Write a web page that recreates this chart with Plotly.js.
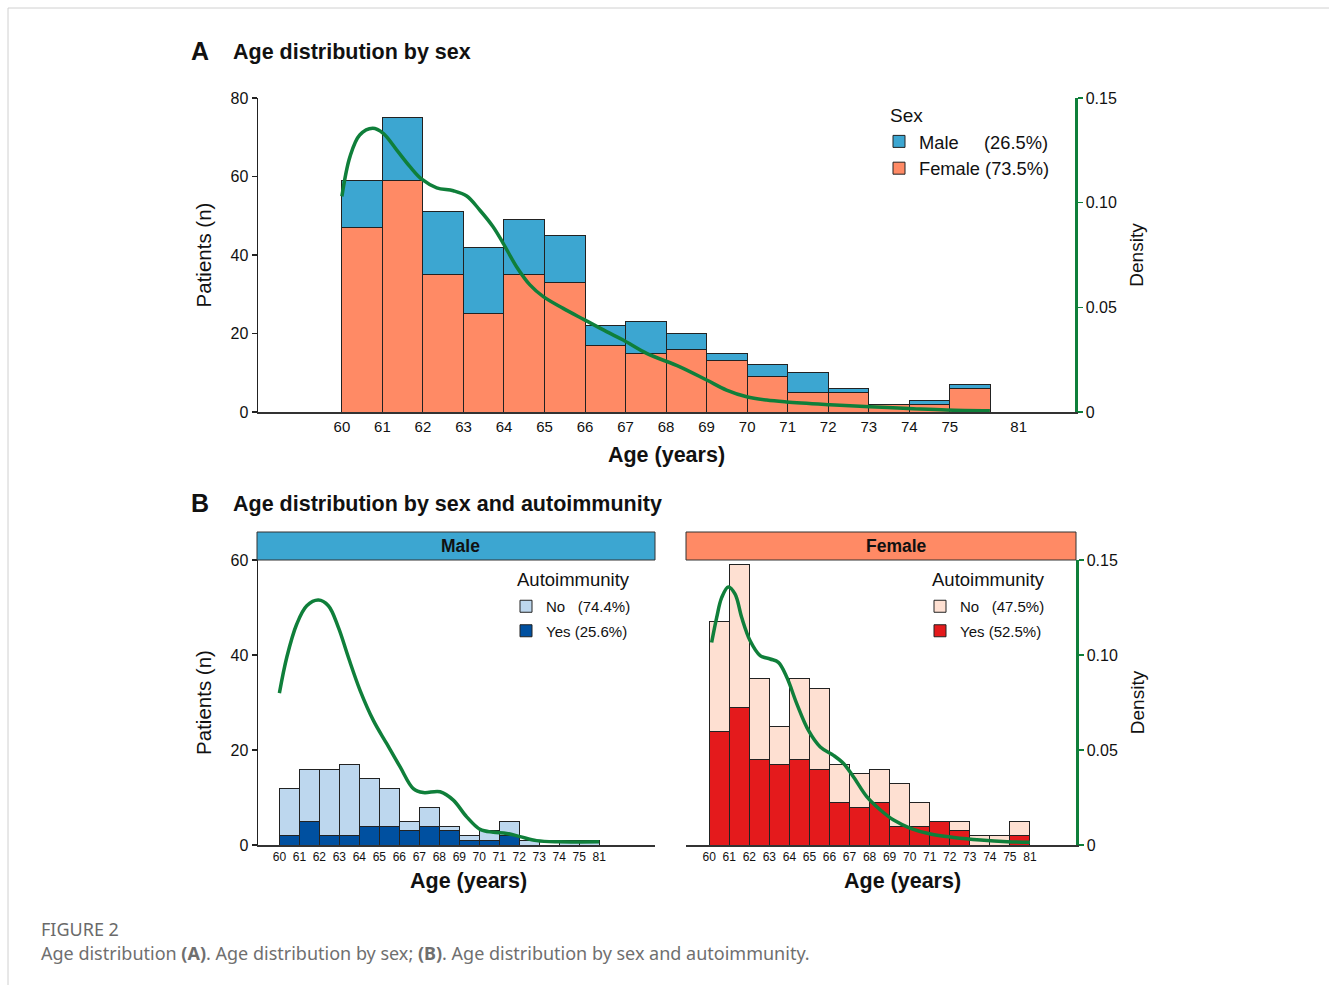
<!DOCTYPE html>
<html>
<head>
<meta charset="utf-8">
<script src="https://cdn.plot.ly/plotly-3.0.1.min.js"></script>
<style>
html,body{margin:0;padding:0;background:#fff;}
#chart{width:1329px;height:985px;}
</style>
</head>
<body>
<div id="chart"></div>
<script>
// ---------------- DATA ----------------
const ageBins = [60,61,62,63,64,65,66,67,68,69,70,71,72,73,74,75];
const ageTickLabels = ['60','61','62','63','64','65','66','67','68','69','70','71','72','73','74','75','81'];

// Panel A: counts by sex
const maleCounts   = [12,16,16,17,14,12,5,8,4,2,3,5,1,0,1,1];
const femaleCounts = [47,59,35,25,35,33,17,15,16,13,9,5,5,2,2,6];
const sexLabels = ['Male\u00a0\u00a0\u00a0\u00a0\u00a0(26.5%)', 'Female (73.5%)'];

// Panel A: density (all patients)
const densAgeAll = [60.0,60.2,60.44,60.76,61.02,61.35,61.68,61.97,62.34,62.75,63.08,63.4,63.73,63.98,64.31,64.64,64.97,65.46,66.0,66.53,66.94,67.52,68.34,69.0,69.49,69.99,70.48,70.97,72.04,73.03,74.1,74.92,75.99];
const densAll    = [0.103,0.122,0.1323,0.1355,0.1331,0.1252,0.1172,0.1112,0.1071,0.1057,0.1032,0.0965,0.0885,0.0806,0.0694,0.0607,0.0551,0.0495,0.0439,0.0384,0.0344,0.028,0.0216,0.0153,0.0105,0.0073,0.0057,0.0048,0.0035,0.0025,0.0016,0.001,0.0006];

// Panel B: counts by autoimmunity within sex
const maleNo    = [10,11,14,15,10,8,2,4,1,1,2,3,1,0,1,1];
const maleYes   = [2,5,2,2,4,4,3,4,3,1,1,2,0,0,0,0];
const femaleNo  = [23,30,17,8,17,17,8,7,7,9,5,0,2,2,2,3];
const femaleYes = [24,29,18,17,18,16,9,8,9,4,4,5,3,0,0,2];
const maleAutoLabels   = ['No\u00a0\u00a0\u00a0(74.4%)', 'Yes (25.6%)'];
const femaleAutoLabels = ['No\u00a0\u00a0\u00a0(47.5%)', 'Yes (52.5%)'];

// Panel B: densities
const densAgeMale = [60.0,60.37,60.87,61.37,61.95,62.45,62.95,63.45,64.04,64.7,65.37,66.04,66.7,67.2,68.04,68.7,69.37,70.04,70.7,71.37,72.04,72.87,74.04,76.0];
const densMale    = [0.0799,0.0988,0.1163,0.1259,0.1289,0.1259,0.1145,0.0988,0.0813,0.0656,0.0533,0.0411,0.0297,0.0276,0.028,0.0236,0.0148,0.0082,0.0067,0.0061,0.0044,0.0023,0.0017,0.0017];
const densAgeFemale = [60.12,60.37,60.62,60.95,61.29,61.62,62.04,62.54,63.04,63.45,63.87,64.37,64.95,65.54,66.2,66.7,67.2,67.87,68.54,69.2,70.04,71.04,72.2,73.54,74.87,76.0];
const densFemale    = [0.1066,0.1197,0.1302,0.1358,0.132,0.1197,0.1075,0.0997,0.0979,0.0961,0.0883,0.0743,0.0603,0.0516,0.0472,0.0429,0.0358,0.0253,0.0184,0.0131,0.0088,0.0058,0.004,0.0026,0.0017,0.0014];

// ---------------- STYLE / LAYOUT ----------------
const W = 1329, H = 985;
const dx = (a, b) => [a / W, b / W];
const dy = (top, bottom) => [1 - bottom / H, 1 - top / H];
const FONT = 'Liberation Sans, Arial, Helvetica, sans-serif';
const CAPFONT = 'Noto Sans, Open Sans, sans-serif';
const GREEN = '#0f7f3a';
const C_MALE = '#3ca6d1', C_FEMALE = '#ff8a65';
const C_MNO = '#bdd7ee', C_MYES = '#0050a0';
const C_FNO = '#fee0d2', C_FYES = '#e41a1c';

const centers = ageBins.map(a => a + 0.5);
const tickvalsA = ageBins.concat([76.7]);
const tickvalsB = ageBins.concat([76]);

function barTrace(y, name, color, xa, ya, legend, rank) {
  return {type: 'bar', x: centers, y: y, width: 1, name: name, legendgroup: name, legendrank: rank,
    marker: {color: color, line: {color: '#222', width: 1}},
    xaxis: xa, yaxis: ya, legend: legend, showlegend: true, hoverinfo: 'y'};
}
function densTrace(x, y, xa, ya) {
  return {type: 'scatter', mode: 'lines', x: x, y: y, xaxis: xa, yaxis: ya,
    line: {color: GREEN, width: 3.5, shape: 'spline', smoothing: 1}, showlegend: false, hoverinfo: 'skip'};
}

const data = [
  barTrace(femaleCounts, sexLabels[1], C_FEMALE, 'x', 'y', 'legend', 2),
  barTrace(maleCounts, sexLabels[0], C_MALE, 'x', 'y', 'legend', 1),
  densTrace(densAgeAll, densAll, 'x', 'y2'),
  barTrace(maleYes, maleAutoLabels[1], C_MYES, 'x2', 'y3', 'legend2', 2),
  barTrace(maleNo, maleAutoLabels[0], C_MNO, 'x2', 'y3', 'legend2', 1),
  densTrace(densAgeMale, densMale, 'x2', 'y6'),
  barTrace(femaleYes, femaleAutoLabels[1], C_FYES, 'x3', 'y4', 'legend3', 2),
  barTrace(femaleNo, femaleAutoLabels[0], C_FNO, 'x3', 'y4', 'legend3', 1),
  densTrace(densAgeFemale, densFemale, 'x3', 'y5')
];

const xBase = {showgrid: false, zeroline: false, ticks: '', showline: true, linecolor: '#333', linewidth: 1.5,
  tickmode: 'array', ticktext: ageTickLabels, fixedrange: true};
const yBase = {showgrid: false, zeroline: false, ticks: 'outside', ticklen: 5, tickwidth: 1.2, tickcolor: '#222',
  showline: true, linecolor: '#222', linewidth: 1.5, fixedrange: true, tickfont: {size: 16, color: '#111'}};
const densAxis = {showgrid: false, zeroline: false, ticks: 'outside', ticklen: 5, tickwidth: 1.5, tickcolor: GREEN,
  showline: true, linecolor: GREEN, linewidth: 2.5, side: 'right', range: [0, 0.15],
  tickmode: 'array', tickvals: [0, 0.05, 0.10, 0.15], ticktext: ['0', '0.05', '0.10', '0.15'],
  tickfont: {size: 16, color: '#111'}, fixedrange: true};

const legendBase = {bgcolor: 'rgba(0,0,0,0)', borderwidth: 0, itemclick: false, itemdoubleclick: false,
  traceorder: 'grouped', xanchor: 'left', yanchor: 'top'};

function paperText(x, y, text, size, anchor, extra) {
  return Object.assign({xref: 'paper', yref: 'paper', x: x / W, y: 1 - y / H, xanchor: anchor || 'left',
    yanchor: 'middle', showarrow: false, text: text, font: {size: size}}, extra || {});
}

const layout = {
  width: W, height: H, margin: {l: 0, r: 0, t: 0, b: 0},
  paper_bgcolor: '#fff', plot_bgcolor: 'rgba(0,0,0,0)',
  font: {family: FONT, color: '#111'},
  barmode: 'stack', bargap: 0,
  // Panel A
  xaxis: Object.assign({}, xBase, {domain: dx(258, 1075), anchor: 'y', range: [57.93, 78.09], tickvals: tickvalsA,
    tickfont: {size: 15}, title: {text: '<b>Age (years)</b>', font: {size: 21.5}, standoff: 13}}),
  yaxis: Object.assign({}, yBase, {domain: dy(98, 412), anchor: 'x', range: [0, 80], tickvals: [0, 20, 40, 60, 80],
    title: {text: 'Patients (n)', font: {size: 20.5}, standoff: 13}}),
  yaxis2: Object.assign({}, densAxis, {overlaying: 'y', anchor: 'x', title: {text: 'Density', font: {size: 19}, standoff: 14}}),
  // Panel B male
  xaxis2: Object.assign({}, xBase, {domain: dx(258, 655), anchor: 'y3', range: [58.93, 78.79], tickvals: tickvalsB,
    tickfont: {size: 12}}),
  yaxis3: Object.assign({}, yBase, {domain: dy(560, 845), anchor: 'x2', range: [0, 60], tickvals: [0, 20, 40, 60],
    title: {text: 'Patients (n)', font: {size: 20.5}, standoff: 13}}),
  yaxis6: {overlaying: 'y3', anchor: 'x2', range: [0, 0.15], visible: false, fixedrange: true},
  // Panel B female
  xaxis3: Object.assign({}, xBase, {domain: dx(686, 1076), anchor: 'y4', range: [58.84, 78.3], tickvals: tickvalsB,
    tickfont: {size: 12}}),
  yaxis4: {domain: dy(560, 845), anchor: 'x3', range: [0, 60], visible: false, fixedrange: true},
  yaxis5: Object.assign({}, densAxis, {overlaying: 'y4', anchor: 'x3', title: {text: 'Density', font: {size: 19}, standoff: 14}}),
  legend: Object.assign({}, legendBase, {x: 879 / W, y: 1 - 123 / H, font: {size: 18.3}, tracegroupgap: 0}),
  legend2: Object.assign({}, legendBase, {x: 506 / W, y: 1 - 590 / H, font: {size: 15}, tracegroupgap: 2}),
  legend3: Object.assign({}, legendBase, {x: 920 / W, y: 1 - 590 / H, font: {size: 15}, tracegroupgap: 2}),
  shapes: [
    {type: 'line', xref: 'paper', yref: 'paper', x0: 8 / W, x1: 1, y0: 1 - 8 / H, y1: 1 - 8 / H, line: {color: '#d0d0d0', width: 1}},
    {type: 'line', xref: 'paper', yref: 'paper', x0: 8 / W, x1: 8 / W, y0: 1 - 8 / H, y1: 0, line: {color: '#d0d0d0', width: 1}},
    {type: 'rect', xref: 'paper', yref: 'paper', x0: 257 / W, x1: 655 / W, y0: 1 - 560 / H, y1: 1 - 532 / H,
      fillcolor: C_MALE, line: {color: '#333', width: 1}},
    {type: 'rect', xref: 'paper', yref: 'paper', x0: 686 / W, x1: 1076 / W, y0: 1 - 560 / H, y1: 1 - 532 / H,
      fillcolor: C_FEMALE, line: {color: '#333', width: 1}}
  ],
  annotations: [
    paperText(189, 51, '<b>A</b>', 25),
    paperText(231, 52, '<b>Age distribution by sex</b>', 21.5),
    paperText(189, 503, '<b>B</b>', 25),
    paperText(231, 504, '<b>Age distribution by sex and autoimmunity</b>', 21.5),
    paperText(460, 546, '<b>Male</b>', 17.5, 'center'),
    paperText(896, 546, '<b>Female</b>', 17.5, 'center'),
    paperText(468, 881, '<b>Age (years)</b>', 21.5, 'center'),
    paperText(902, 881, '<b>Age (years)</b>', 21.5, 'center'),
    paperText(888, 115, 'Sex', 19),
    paperText(515, 579, 'Autoimmunity', 18.5),
    paperText(930, 579, 'Autoimmunity', 18.5),
    paperText(39, 929, 'FIGURE 2', 18, 'left', {font: {size: 18, color: '#6a6a6a', family: CAPFONT}}),
    paperText(39, 953, 'Age distribution <b>(A)</b>. Age distribution by sex; <b>(B)</b>. Age distribution by sex and autoimmunity.',
      18, 'left', {font: {size: 18, color: '#6f6f6f', family: CAPFONT}})
  ]
};

Plotly.newPlot('chart', data, layout, {displayModeBar: false, staticPlot: true});
</script>
</body>
</html>
